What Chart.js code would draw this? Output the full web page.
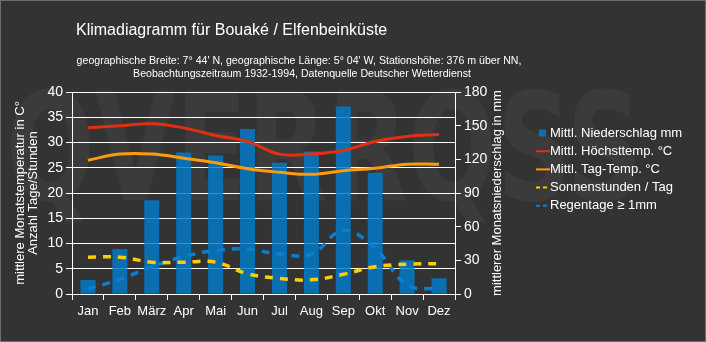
<!DOCTYPE html>
<html>
<head>
<meta charset="utf-8">
<script src="https://cdn.jsdelivr.net/npm/chart.js@4.4.1/dist/chart.umd.min.js"></script>
<style>
  html, body { margin: 0; padding: 0; background: #333333; }
  canvas { display: block; }
</style>
</head>
<body>
<canvas id="klima" width="706" height="342"></canvas>
<script>
const months = ["Jan", "Feb", "März", "Apr", "Mai", "Jun", "Jul", "Aug", "Sep", "Okt", "Nov", "Dez"];
const niederschlag = [12.5, 40, 83.5, 126, 123.5, 147, 117, 127, 167, 108, 30, 14];
const hoechstTemp = [32.9, 33.3, 33.7, 32.9, 31.4, 30.2, 27.7, 27.7, 28.4, 30.2, 31.2, 31.6];
const tagTemp = [26.5, 27.7, 27.7, 26.9, 26.0, 24.8, 24.1, 23.7, 24.4, 24.9, 25.7, 25.7];
const sonnenstunden = [7.3, 7.3, 6.3, 6.3, 6.3, 4.0, 3.1, 2.8, 3.9, 5.4, 5.9, 6.0];
const regentage = [1.0, 2.9, 5.4, 7.4, 8.6, 8.9, 7.9, 7.9, 12.6, 9.0, 1.8, 1.0];

const tempTicks = { min: 0, max: 40, step: 5 };
const rainTicks = { min: 0, max: 180, step: 30 };

const FONT = "'Liberation Sans', Arial, sans-serif";
const WHITE = "#ffffff";

// background, watermark, titles, axis titles, legend
const decor = {
  id: "decor",
  beforeDraw(chart) {
    const ctx = chart.ctx;
    ctx.save();
    ctx.fillStyle = "#333333";
    ctx.fillRect(0, 0, chart.width, chart.height);
    // faint logo behind the plot
    ctx.globalAlpha = 0.04;
    ctx.fillStyle = "#ffffff";
    ctx.font = "bold 150px 'Liberation Sans Narrow', 'DejaVu Sans Condensed', sans-serif";
    ctx.textBaseline = "alphabetic";
    const wm = "QVERRQSS";
    const w = ctx.measureText(wm).width;
    ctx.translate(6, 200);
    ctx.scale(636 / w, 1);
    ctx.fillText(wm, 0, 0);
    ctx.restore();
  },
  afterDraw(chart) {
    const ctx = chart.ctx;
    const area = chart.chartArea;
    ctx.save();
    ctx.strokeStyle = "#6e6e6e";
    ctx.lineWidth = 1;
    ctx.strokeRect(0.5, 0.5, chart.width - 1, chart.height - 1);

    ctx.fillStyle = WHITE;
    ctx.textBaseline = "middle";
    ctx.textAlign = "left";
    ctx.font = "16px " + FONT;
    ctx.fillText("Klimadiagramm für Bouaké / Elfenbeinküste", 76, 31);

    ctx.textAlign = "center";
    ctx.font = "10.6px " + FONT;
    ctx.fillText("geographische Breite: 7° 44' N, geographische Länge: 5° 04' W, Stationshöhe: 376 m über NN,", 299, 61);
    ctx.fillText("Beobachtungszeitraum 1932-1994, Datenquelle Deutscher Wetterdienst", 302, 74);

    // axis titles, both reading bottom to top
    const midY = (area.top + area.bottom) / 2;
    ctx.font = "13px " + FONT;
    ctx.save();
    ctx.translate(20, midY);
    ctx.rotate(-Math.PI / 2);
    ctx.fillText("mittlere Monatstemperatur in C°", 0, 0);
    ctx.fillText("Anzahl Tage/Stunden", 0, 13);
    ctx.restore();
    ctx.save();
    ctx.translate(497, midY);
    ctx.rotate(-Math.PI / 2);
    ctx.fillText("mittlerer Monatsniederschlag in mm", 0, 0);
    ctx.restore();

    // legend
    ctx.textAlign = "left";
    ctx.font = "13px " + FONT;
    const ds = chart.data.datasets;
    let y = 133;
    ds.forEach((d) => {
      if (d.type === "bar") {
        ctx.fillStyle = d.backgroundColor;
        ctx.fillRect(539, y - 3.5, 7, 7);
      } else {
        ctx.strokeStyle = d.borderColor;
        ctx.lineWidth = 2;
        ctx.setLineDash(d.borderDash ? [4, 3] : []);
        ctx.beginPath();
        ctx.moveTo(536, y);
        ctx.lineTo(550, y);
        ctx.stroke();
        ctx.setLineDash([]);
      }
      ctx.fillStyle = WHITE;
      ctx.fillText(d.label, 550, y);
      y += 18.2;
    });
    ctx.restore();
  }
};

new Chart(document.getElementById("klima"), {
  data: {
    labels: months,
    datasets: [
      {
        type: "bar",
        label: "Mittl. Niederschlag mm",
        data: niederschlag,
        yAxisID: "y1",
        backgroundColor: "rgba(0, 125, 205, 0.82)",
        barPercentage: 0.47,
        categoryPercentage: 1,
        order: 2
      },
      {
        type: "line",
        label: "Mittl. Höchsttemp. °C",
        data: hoechstTemp,
        yAxisID: "y",
        borderColor: "#e2300e",
        borderWidth: 3,
        pointRadius: 0,
        tension: 0.4,
        order: 1
      },
      {
        type: "line",
        label: "Mittl. Tag-Temp. °C",
        data: tagTemp,
        yAxisID: "y",
        borderColor: "#ff9a10",
        borderWidth: 3,
        pointRadius: 0,
        tension: 0.4,
        order: 1
      },
      {
        type: "line",
        label: "Sonnenstunden / Tag",
        data: sonnenstunden,
        yAxisID: "y",
        borderColor: "#ffcc00",
        borderWidth: 3.5,
        borderDash: [8, 7],
        pointRadius: 0,
        tension: 0.4,
        order: 1
      },
      {
        type: "line",
        label: "Regentage ≥ 1mm",
        data: regentage,
        yAxisID: "y",
        borderColor: "#0a7fd2",
        borderWidth: 3.5,
        borderDash: [8, 7],
        pointRadius: 0,
        tension: 0.4,
        order: 1
      }
    ]
  },
  options: {
    responsive: false,
    animation: false,
    layout: { padding: { top: 92, left: 0, right: 0, bottom: 0 } },
    plugins: {
      legend: { display: false },
      tooltip: { enabled: false }
    },
    scales: {
      x: {
        offset: true,
        grid: { drawOnChartArea: false, color: WHITE, tickLength: 6, offset: true },
        border: { color: WHITE },
        ticks: { color: WHITE, font: { family: FONT, size: 13 }, padding: 4, maxRotation: 0, autoSkip: false },
        afterFit(scale) { scale.height = 48; }
      },
      y: {
        position: "left",
        min: tempTicks.min,
        max: tempTicks.max,
        grid: { color: WHITE, tickLength: 6 },
        border: { color: WHITE },
        ticks: { stepSize: tempTicks.step, color: WHITE, font: { family: FONT, size: 14 }, padding: 3 },
        afterFit(scale) { scale.width = 72; }
      },
      y1: {
        position: "right",
        min: rainTicks.min,
        max: rainTicks.max,
        grid: { drawOnChartArea: false, color: WHITE, tickLength: 6 },
        border: { color: WHITE },
        ticks: { stepSize: rainTicks.step, color: WHITE, font: { family: FONT, size: 14 }, padding: 3 },
        afterFit(scale) { scale.width = 251; }
      }
    }
  },
  plugins: [decor]
});
</script>
</body>
</html>
